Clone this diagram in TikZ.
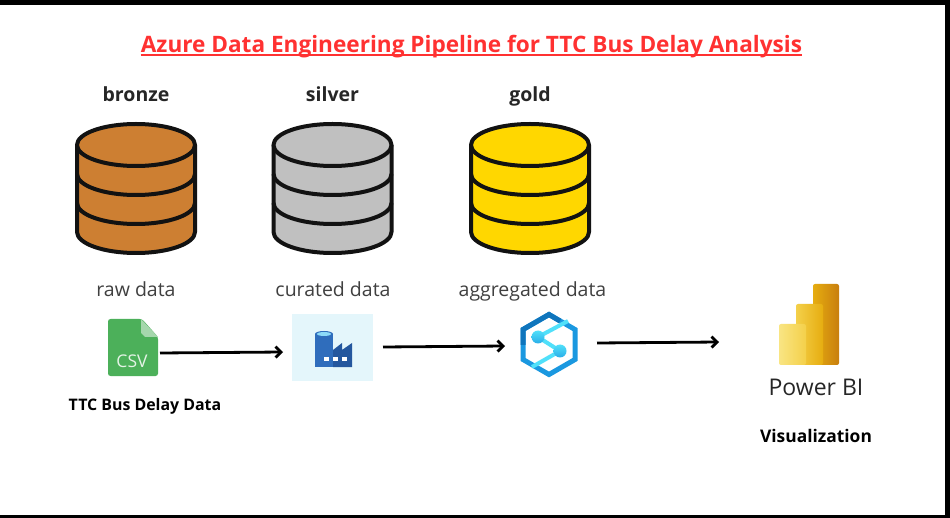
\documentclass[tikz,border=0pt]{standalone}
\usepackage{fontspec}
\setmainfont{Open Sans}
\usetikzlibrary{arrows.meta}

\definecolor{bronzefill}{HTML}{CD7F32}
\definecolor{silverfill}{HTML}{C0C0C0}
\definecolor{goldfill}{HTML}{FFD700}
\definecolor{titlered}{HTML}{FF3131}
\definecolor{csvgreen}{HTML}{4CB05A}
\definecolor{adfbox}{HTML}{E4F6FB}
\definecolor{adfblue}{HTML}{2F6DBC}
\definecolor{adfdark}{HTML}{24579E}
\definecolor{hexdark}{HTML}{0F75BC}
\definecolor{hexlight}{HTML}{1A98E0}
\definecolor{synlight}{HTML}{50E0FA}
\definecolor{biA}{HTML}{F9E583}
\definecolor{biB}{HTML}{F4D04A}
\definecolor{biC}{HTML}{E6AD10}
\definecolor{biD}{HTML}{C87E0E}

\tikzset{
    dbline/.style={line width=4pt,draw=black!93,line join=round},
    headtext/.style={anchor=base,font=\fontsize{19.5}{20}\selectfont\bfseries,text=black!85},
    layertext/.style={anchor=base,font=\fontsize{19.5}{20}\selectfont,text=black!75},
    flowarrow/.style={line width=2.8pt,-{Straight Barb[length=5.5pt,width=11pt]}}
}

\begin{document}
\begin{tikzpicture}[x=1pt,y=-1pt]
    \useasboundingbox (0,0) rectangle (950,518);
    \fill[white] (0,0) rectangle (950,518);
    % frame of the screenshot
    \fill[black] (0,0) rectangle (950,5);
    \fill[black] (945,0) rectangle (950,518);
    \fill[black] (0,515) rectangle (950,518);

    \node[anchor=base,inner sep=0pt,text=titlered,font=\fontsize{22.6}{23}\selectfont\bfseries] (title) at (471.5,52.5)
        {Azure Data Engineering Pipeline for TTC Bus Delay Analysis};
    \draw[titlered,line width=2pt] ([yshift=-3pt]title.base west) -- ([yshift=-3pt]title.base east);

    % the three stores
    \foreach \x/\col/\nm/\sub/\subx in {136/bronzefill/bronze/raw data/136,332.5/silverfill/silver/curated data/333,530/goldfill/gold/aggregated data/532.5}{
        \draw[dbline,fill=\col] (\x-59,145) -- (\x-59,232)
            arc[start angle=180,end angle=0,x radius=59,y radius=21] -- (\x+59,145);
        \foreach \y in {174,203}{
            \draw[dbline] (\x-59,\y) arc[start angle=180,end angle=0,x radius=59,y radius=21];
        };
        \draw[dbline,fill=\col] (\x,145) ellipse[x radius=59,y radius=21];
        \node[headtext] (\nm) at (\x,102) {\nm};
        \node[layertext] (\nm sub) at (\subx,297) {\sub};
    };

    % csv file
    \fill[csvgreen,rounded corners=2.5pt] (108,319) -- (142,319) -- (158,337) -- (158,376) -- (108,376) -- cycle;
    \fill[csvgreen!50!white] (141,319) -- (158,337) -- (145,337) -- (141,333) -- cycle;
    \node[anchor=base,text=white!85!csvgreen,font=\fontsize{17.5}{18}\selectfont] (csv) at (132,367) {CSV};
    \node[anchor=base,font=\fontsize{15.9}{16}\selectfont\bfseries] (source) at (145,410) {TTC Bus Delay Data};

    % data factory
    \fill[adfbox] (292,314) rectangle (373,381);
    \fill[adfblue] (315,334) rectangle (333,367);
    \fill[adfblue] (324,334) ellipse[x radius=9,y radius=3];
    \fill[cyan!45!white] (324,334) ellipse[x radius=7,y radius=2];
    \fill[adfdark] (333,350) -- (333,367) -- (352,367) -- (352,343) -- (342,350) -- (342,343) -- cycle;
    \foreach \x in {324,333,342}{
        \fill[white] (\x,357) rectangle (\x+5,361);
    };

    % synapse
    \draw[line width=5pt,draw=hexlight,line join=miter] (549,314.5) -- (575,329.5) -- (575,359.5) -- (549,374.5) -- (523,359.5) -- (523,329.5) -- cycle;
    \draw[line width=5pt,draw=hexdark] (523,345) -- (523,329.5) -- (549,314.5) -- (560,321);
    \draw[line width=4pt,synlight] (538,337) -- (568,321);
    \draw[line width=4pt,synlight] (560,351) -- (532,367);
    \draw[line width=4pt,synlight] (538,337) -- (560,351);
    \shade[top color=synlight,bottom color=hexlight!70!synlight] (538,337) circle[radius=6.5];
    \shade[top color=synlight,bottom color=hexlight!70!synlight] (560,351) circle[radius=6.5];

    % power bi
    \shade[left color=biC,right color=biD,rounded corners=2pt] (813,284) rectangle (839,365);
    \shade[left color=biB,right color=biC,rounded corners=2pt] (796,304) rectangle (823,365);
    \shade[left color=biA,right color=biB,rounded corners=2pt] (779,324) rectangle (806,365);
    \node[anchor=base,text=black!85,font=\fontsize{23}{23}\selectfont] (powerbi) at (816,395) {Power BI};
    \node[anchor=base,font=\fontsize{17.4}{18}\selectfont\bfseries] (vis) at (816,442.5) {Visualization};

    \coordinate (csvout) at (160,353);
    \coordinate (adfin) at (283,352);
    \coordinate (adfout) at (383,347);
    \coordinate (synin) at (505,346);
    \coordinate (synout) at (597,343);
    \coordinate (biin) at (719,342);
    \draw[flowarrow] (csvout) -- (adfin);
    \draw[flowarrow] (adfout) -- (synin);
    \draw[flowarrow] (synout) -- (biin);
\end{tikzpicture}
\end{document}
